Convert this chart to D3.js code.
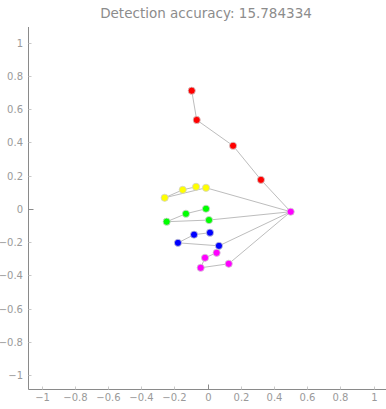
<!DOCTYPE html>
<html><head><meta charset="utf-8">
<script src="https://cdn.jsdelivr.net/npm/d3@7"></script>
<style>body{margin:0;background:#fff}svg{display:block}</style>
</head><body>
<script>
const title = "Detection accuracy: 15.784334";
const tickValues = [-1,-0.8,-0.6,-0.4,-0.2,0,0.2,0.4,0.6,0.8,1];
// landmark groups: wrist, then each finger's 4 joints (base -> tip)
const wrist = [0.501, -0.018];
const thumb  = [[0.322,0.174],[0.154,0.379],[-0.065,0.534],[-0.095,0.710]];
const index  = [[-0.009,0.126],[-0.258,0.066],[-0.149,0.114],[-0.069,0.132]];
const middle = [[0.009,-0.068],[-0.246,-0.078],[-0.130,-0.030],[-0.009,0.000]];
const ring   = [[0.069,-0.223],[-0.178,-0.205],[-0.081,-0.156],[0.015,-0.144]];
const pinky  = [[0.128,-0.331],[-0.041,-0.355],[-0.015,-0.295],[0.055,-0.265]];
const fingers = [thumb, index, middle, ring, pinky];
const fingerColors = ["#ff0000","#ffff00","#00ff00","#0000ff","#ff00ff"];
const wristColor = "#ff00ff";

const W = 386, H = 409;
const svg = d3.select("body").append("svg").attr("width", W).attr("height", H);
const x = d3.scaleLinear().domain([-1,1]).range([41.5,373.5]);
const y = d3.scaleLinear().domain([-1,1]).range([375,42.5]);
const x0 = 28.5, yB = 389.5;
const font = "DejaVu Sans, Verdana, sans-serif";

svg.append("text").attr("x", 206).attr("y", 18).attr("text-anchor","middle")
  .attr("font-family", font).attr("font-size", 13.5).attr("fill", "#8c8c8c").text(title);

// axes lines
svg.append("line").attr("x1", x0).attr("x2", x0).attr("y1", 27).attr("y2", yB).attr("stroke","#8a8a8a");
svg.append("line").attr("x1", x0).attr("x2", W).attr("y1", yB).attr("y2", yB).attr("stroke","#8a8a8a");

// y ticks
const yAxis = svg.append("g");
tickValues.forEach(v => {
  const py = Math.round(y(v)) + 0.5;
  const zero = v === 0;
  yAxis.append("line").attr("x1", x0).attr("x2", x0 + (zero ? 5 : 3))
    .attr("y1", py).attr("y2", py).attr("stroke", zero ? "#8a8a8a" : "#c8c8c8");
  yAxis.append("text").attr("x", 23).attr("y", py + 3.5).attr("text-anchor","end")
    .attr("font-family", font).attr("font-size", 10).attr("fill", "#9a9a9a").text(d3.format("")(v));
});
// x ticks
const xAxis = svg.append("g");
tickValues.forEach(v => {
  const px = Math.round(x(v)) + 0.5;
  const zero = v === 0;
  xAxis.append("line").attr("x1", px).attr("x2", px)
    .attr("y1", yB).attr("y2", yB - (zero ? 5 : 3)).attr("stroke", zero ? "#8a8a8a" : "#c8c8c8");
  xAxis.append("text").attr("x", px).attr("y", 401).attr("text-anchor","middle")
    .attr("font-family", font).attr("font-size", 10).attr("fill", "#9a9a9a").text(d3.format("")(v));
});

// bones
const bones = svg.append("g");
fingers.forEach(f => {
  const chain = [wrist, ...f];
  bones.append("path").attr("d", d3.line().x(d => x(d[0])).y(d => y(d[1]))(chain))
    .attr("fill","none").attr("stroke","#bdbdbd").attr("stroke-width",1);
});
// joints
const joints = svg.append("g");
fingers.forEach((f, i) => {
  f.forEach(p => {
    joints.append("circle").attr("cx", x(p[0])).attr("cy", y(p[1])).attr("r", 3.6)
      .attr("fill", fingerColors[i]).attr("stroke", "#d0d0d0").attr("stroke-width", 0.8);
  });
});
joints.append("circle").attr("cx", x(wrist[0])).attr("cy", y(wrist[1])).attr("r", 3.6)
  .attr("fill", wristColor).attr("stroke", "#d0d0d0").attr("stroke-width", 0.8);
</script>
</body></html>
